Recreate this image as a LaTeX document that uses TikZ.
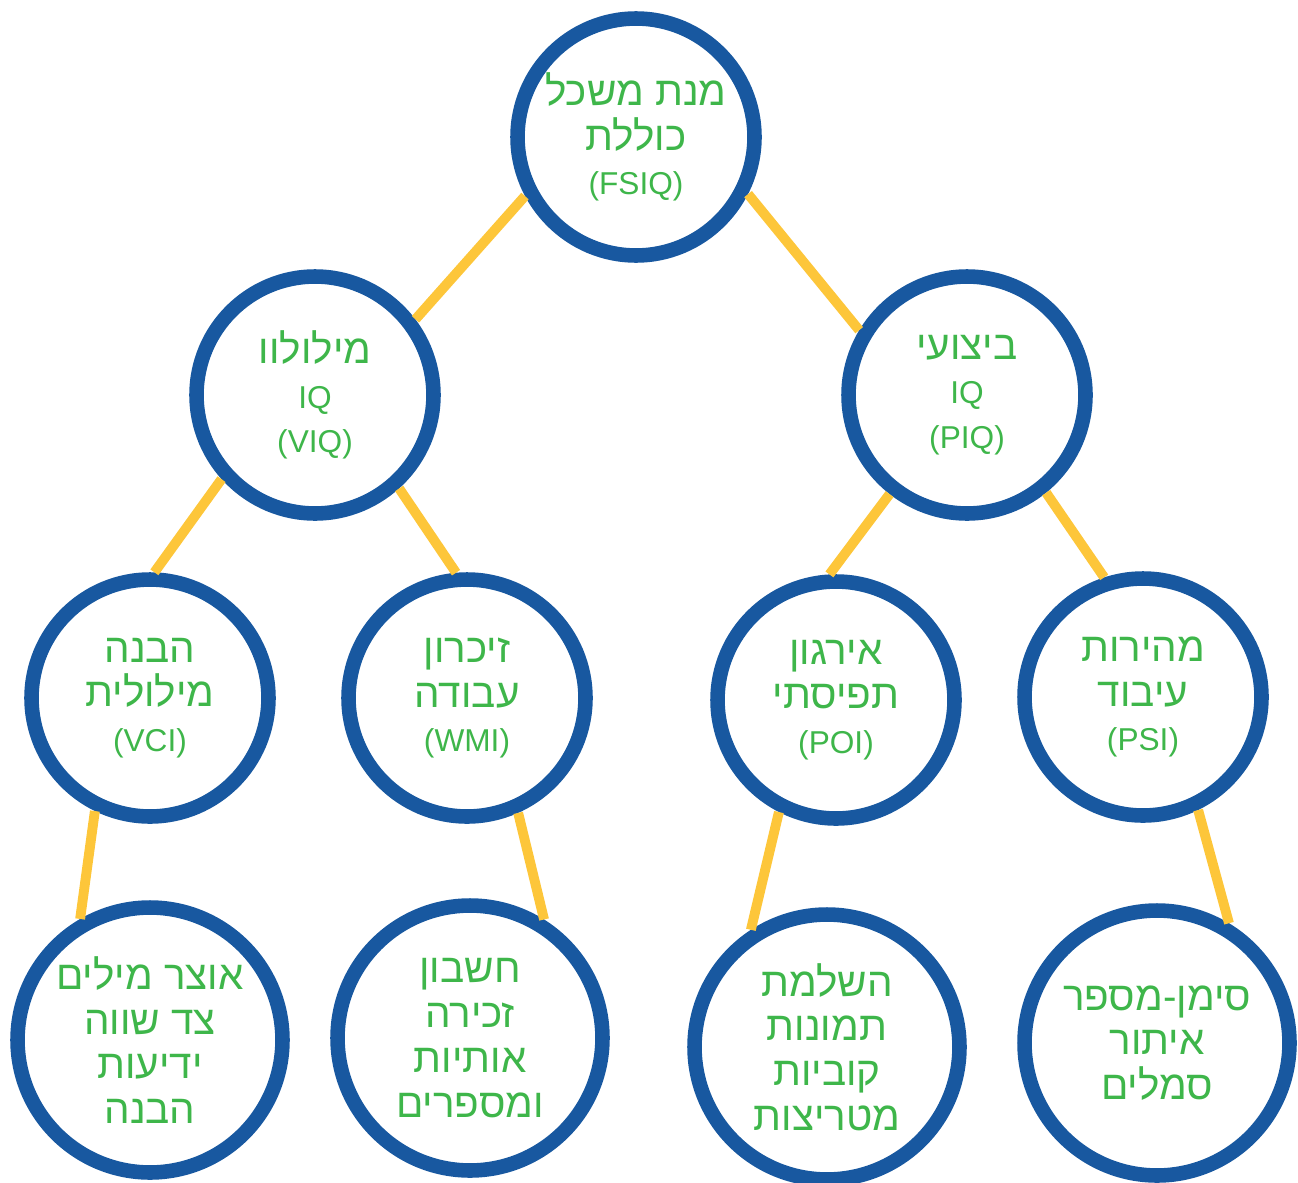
\documentclass[tikz,border=0pt]{standalone}
\usepackage{fontspec}
\setmainfont[Script=Hebrew]{Liberation Sans}
\TeXXeTstate=1
\newcommand{\heb}[1]{\beginR #1\endR}

\definecolor{ringblue}{RGB}{24,88,160}
\definecolor{textgreen}{RGB}{62,182,74}
\definecolor{linkyellow}{RGB}{253,198,58}

\tikzset{
  score/.style={circle, draw=ringblue, line width=8.3pt, fill=white,
    minimum size=4.74cm, inner sep=0pt, align=center, text=textgreen,
    font=\fontsize{23}{25.5}\selectfont},
  subtest/.style={score, minimum size=5.3cm},
  link/.style={draw=linkyellow, line width=5.6pt}
}
\newcommand{\abbr}[1]{{\fontsize{18}{25.5}\selectfont #1}}

\begin{document}
\begin{tikzpicture}[x=0.02cm, y=-0.02cm]
      \useasboundingbox (0,0) rectangle (1298,1183);

      \node[score] (fsiq) at (636,137) {\heb{מנת משכל}\\ \heb{כוללת}\\ \abbr{(FSIQ)}};
      \node[score] (viq) at (315,395) {\heb{מילולוו}\\ \abbr{IQ}\\ \abbr{(VIQ)}};
      \node[score] (piq) at (967,395) {\heb{ביצועי}\\ \abbr{IQ}\\ \abbr{(PIQ)}};

      \node[score] (vci) at (150,698) {\heb{הבנה}\\ \heb{מילולית}\\ \abbr{(VCI)}};
      \node[score] (wmi) at (467,698) {\heb{זיכרון}\\ \heb{עבודה}\\ \abbr{(WMI)}};
      \node[score] (poi) at (836,700) {\heb{אירגון}\\ \heb{תפיסתי}\\ \abbr{(POI)}};
      \node[score] (psi) at (1143,697) {\heb{מהירות}\\ \heb{עיבוד}\\ \abbr{(PSI)}};

      \node[subtest] (vcitests) at (150,1040) {\heb{אוצר מילים}\\ \heb{צד שווה}\\ \heb{ידיעות}\\ \heb{הבנה}};
      \node[subtest] (wmitests) at (470,1038) {\heb{חשבון}\\ \heb{זכירה}\\ \heb{אותיות}\\ \heb{ומספרים}};
      \node[subtest] (poitests) at (827,1047) {\heb{השלמת}\\ \heb{תמונות}\\ \heb{קוביות}\\ \heb{מטריצות}};
      \node[subtest] (psitests) at (1157,1043) {\heb{סימן-מספר}\\ \heb{איתור}\\ \heb{סמלים}};

      \draw[link] (fsiq.208) -- (viq.37);
      \draw[link] (fsiq.333) -- (piq.149);
      \draw[link] (viq.222) -- (vci.88);
      \draw[link] (viq.312) -- (wmi.95);
      \draw[link] (piq.232) -- (poi.93);
      \draw[link] (piq.309) -- (psi.108);
      \draw[link] (vci.244) -- (vcitests.120);
      \draw[link] (wmi.294) -- (wmitests.58);
      \draw[link] (poi.243) -- (poitests.123);
      \draw[link] (psi.296) -- (psitests.59);
    \end{tikzpicture}
\end{document}
